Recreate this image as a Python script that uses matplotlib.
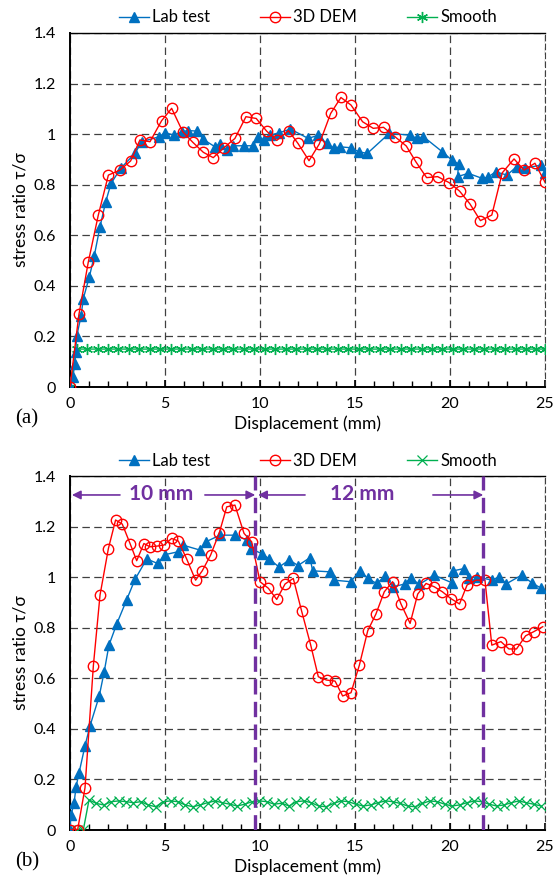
import numpy as np
import matplotlib.pyplot as plt

plt.rcParams['font.family'] = ['Lato', 'DejaVu Sans']

# === (a) data ===
lab_a_x = [0, 0.15, 0.25, 0.3, 0.35, 0.58, 0.7, 1.02, 1.28, 1.58, 1.88, 2.16, 2.67, 3.42, 3.77,
           4.7, 5.0, 5.47, 5.88, 6.23, 6.7, 7.02, 7.63, 7.89, 8.25, 8.6, 9.16, 9.65, 9.91, 10.2,
           10.5, 11.0, 11.6, 12.54, 13.07, 13.5, 13.9, 14.2, 14.8, 15.2, 15.65, 16.8, 17.9, 18.25,
           18.6, 19.6, 20.1, 20.45, 20.4, 20.96, 21.7, 22.0, 22.4, 23.0, 23.5, 23.95, 24.8, 25.0]
lab_a_y = [0, 0.04, 0.09, 0.14, 0.2, 0.28, 0.35, 0.436, 0.52, 0.634, 0.733, 0.805, 0.865, 0.924, 0.97,
           0.99, 1.006, 0.996, 1.01, 1.014, 1.012, 0.979, 0.95, 0.961, 0.937, 0.954, 0.954, 0.954, 0.99, 0.977,
           0.996, 1.005, 1.02, 0.983, 0.996, 0.963, 0.944, 0.95, 0.946, 0.93, 0.924, 1.003, 0.996, 0.983,
           0.99, 0.93, 0.897, 0.882, 0.832, 0.845, 0.825, 0.83, 0.851, 0.838, 0.871, 0.865, 0.878, 0.845]

dem_a_x = [0, 0.47, 0.96, 1.49, 2.02, 2.63, 3.19, 3.68, 4.21, 4.82, 5.35, 5.93, 6.46, 7.02, 7.54,
           8.1, 8.68, 9.26, 9.8, 10.35, 10.88, 11.5, 12.0, 12.58, 13.12, 13.72, 14.26, 14.79, 15.4,
           15.96, 16.5, 17.1, 17.7, 18.2, 18.77, 19.35, 19.96, 20.5, 21.05, 21.6, 22.2, 22.75, 23.37,
           23.9, 24.47, 25.0]
dem_a_y = [0, 0.287, 0.493, 0.68, 0.838, 0.858, 0.894, 0.977, 0.97, 1.053, 1.102, 1.01, 0.968, 0.928, 0.907,
           0.946, 0.983, 1.069, 1.062, 1.012, 0.975, 1.014, 0.963, 0.895, 0.961, 1.082, 1.145, 1.115, 1.049,
           1.023, 1.027, 0.99, 0.953, 0.891, 0.828, 0.832, 0.808, 0.775, 0.724, 0.658, 0.68, 0.847, 0.902,
           0.858, 0.885, 0.81]

smooth_a_x = [0, 0.35, 0.9, 1.45, 2.0, 2.55, 3.1, 3.65, 4.2, 4.75, 5.3, 5.85, 6.4, 6.95, 7.5, 8.05,
              8.6, 9.15, 9.7, 10.25, 10.8, 11.35, 11.9, 12.45, 13.0, 13.55, 14.1, 14.65, 15.2, 15.75,
              16.3, 16.85, 17.4, 17.95, 18.5, 19.05, 19.6, 20.15, 20.7, 21.25, 21.8, 22.35, 22.9,
              23.45, 24.0, 24.55, 25.0]
smooth_a_y = [0, 0.15, 0.15, 0.15, 0.15, 0.15, 0.15, 0.15, 0.15, 0.15, 0.15, 0.15, 0.15, 0.15, 0.15, 0.15,
              0.15, 0.15, 0.15, 0.15, 0.15, 0.15, 0.15, 0.15, 0.15, 0.15, 0.15, 0.15, 0.15, 0.15,
              0.15, 0.15, 0.15, 0.15, 0.15, 0.15, 0.15, 0.15, 0.15, 0.15, 0.15, 0.15, 0.15,
              0.15, 0.15, 0.15, 0.15]

# === (b) data ===
lab_b_x = [0, 0.05, 0.21, 0.32, 0.47, 0.79, 1.05, 1.54, 1.8, 2.05, 2.46, 2.98, 3.42, 4.04, 4.61,
           5.0, 5.67, 5.93, 6.84, 7.16, 7.89, 8.68, 9.3, 9.51, 10.09, 10.49, 11.0, 11.54, 12.0,
           12.63, 12.77, 13.68, 13.9, 14.77, 15.26, 15.67, 16.14, 16.58, 17.0, 17.63, 17.93, 18.38,
           19.16, 20.09, 20.17, 20.74, 21.0, 21.4, 22.2, 22.6, 22.95, 23.77, 24.3, 24.8]
lab_b_y = [0, 0.059, 0.105, 0.171, 0.224, 0.333, 0.411, 0.53, 0.626, 0.731, 0.815, 0.91, 0.991, 1.072, 1.054,
           1.089, 1.1, 1.127, 1.107, 1.14, 1.166, 1.166, 1.147, 1.113, 1.093, 1.072, 1.04, 1.068, 1.046,
           1.077, 1.025, 1.021, 0.988, 0.982, 1.025, 0.995, 0.975, 1.004, 0.962, 0.973, 0.998, 0.971,
           1.008, 0.978, 1.025, 1.034, 0.995, 1.002, 0.988, 1.002, 0.973, 1.008, 0.978, 0.956]

dem_b_x = [0, 0.4, 0.79, 1.23, 1.58, 2.02, 2.4, 2.75, 3.16, 3.51, 3.89, 4.21, 4.6, 4.95, 5.35, 5.7,
           6.14, 6.61, 6.96, 7.4, 7.86, 8.25, 8.68, 9.16, 9.56, 10.0, 10.44, 10.88, 11.32, 11.75,
           12.19, 12.67, 13.07, 13.5, 13.95, 14.35, 14.79, 15.23, 15.67, 16.1, 16.54, 16.98, 17.42,
           17.9, 18.3, 18.74, 19.17, 19.6, 20.05, 20.5, 20.9, 21.37, 21.84, 22.2, 22.68, 23.1, 23.5,
           23.98, 24.4, 24.88]
dem_b_y = [0, 0, 0.167, 0.65, 0.929, 1.113, 1.226, 1.21, 1.133, 1.065, 1.133, 1.12, 1.123, 1.127, 1.153, 1.143,
           1.072, 0.988, 1.025, 1.087, 1.176, 1.278, 1.285, 1.173, 1.14, 0.982, 0.956, 0.912, 0.973, 0.995,
           0.866, 0.731, 0.606, 0.593, 0.589, 0.53, 0.543, 0.652, 0.788, 0.854, 0.942, 0.982, 0.894,
           0.817, 0.933, 0.975, 0.962, 0.942, 0.915, 0.894, 0.969, 0.988, 0.988, 0.731, 0.745, 0.716, 0.716,
           0.768, 0.784, 0.804]

smooth_b_x = [0, 0.35, 0.7, 1.0, 1.39, 1.78, 2.17, 2.56, 2.95, 3.34, 3.73, 4.12, 4.51, 4.9, 5.29,
              5.68, 6.07, 6.46, 6.85, 7.24, 7.63, 8.02, 8.41, 8.8, 9.19, 9.58, 9.97, 10.36, 10.75,
              11.14, 11.53, 11.92, 12.31, 12.7, 13.09, 13.48, 13.87, 14.26, 14.65, 15.04, 15.43,
              15.82, 16.21, 16.6, 16.99, 17.38, 17.77, 18.16, 18.55, 18.94, 19.33, 19.72, 20.11,
              20.5, 20.89, 21.28, 21.67, 22.06, 22.45, 22.84, 23.23, 23.62, 24.01, 24.4, 24.79]
smooth_b_y = [0, 0, 0, 0.119, 0.105, 0.099, 0.112, 0.115, 0.112, 0.108, 0.112, 0.099, 0.092, 0.112, 0.115,
              0.112, 0.099, 0.092, 0.099, 0.108, 0.115, 0.108, 0.102, 0.095, 0.102, 0.112, 0.115, 0.112, 0.102,
              0.106, 0.095, 0.112, 0.115, 0.108, 0.095, 0.092, 0.105, 0.115, 0.112, 0.102, 0.095,
              0.099, 0.108, 0.115, 0.112, 0.105, 0.095, 0.092, 0.105, 0.115, 0.112, 0.102, 0.095,
              0.099, 0.108, 0.115, 0.112, 0.102, 0.095, 0.099, 0.108, 0.115, 0.108, 0.102, 0.095]

shift_x = [9.75, 21.75]
span_labels = ['10 mm', '12 mm']

blue = '#0070C0'
red = '#FF0000'
green = '#00B050'
purple = '#7030A0'


def style_axes(ax):
    ax.set_xlim(0, 25)
    ax.set_ylim(0, 1.4)
    ax.set_xticks(range(0, 26, 5))
    ax.set_xticks(range(0, 26), minor=True)
    ax.set_yticks(np.arange(0, 1.41, 0.2))
    ax.set_yticklabels(['0', '0.2', '0.4', '0.6', '0.8', '1', '1.2', '1.4'])
    ax.grid(True, which='major', color='#404040', lw=0.9, ls=(0, (6, 3.5)))
    ax.tick_params(axis='x', which='major', direction='in', length=5, width=1.2, pad=7, labelsize=11.5)
    ax.tick_params(axis='x', which='minor', direction='in', length=4, width=1)
    ax.tick_params(axis='y', length=0, pad=10, labelsize=11.5)
    for s in ['left', 'bottom']:
        ax.spines[s].set_linewidth(1.4)
    ax.spines['top'].set_linewidth(1.0)
    ax.spines['right'].set_linestyle((0, (5, 3)))
    ax.spines['right'].set_color('#404040')
    ax.set_xlabel('Displacement (mm)', fontsize=12.5)
    ax.xaxis.set_label_coords(0.5, -0.08)
    ax.set_ylabel('stress ratio τ/σ', fontsize=12.5)
    ax.yaxis.set_label_coords(-0.088, 0.5)


fig = plt.figure(figsize=(5.54, 8.81), dpi=100)
ax_a = fig.add_axes([70 / 554, 1 - 387 / 881, 475 / 554, 354 / 881])
ax_b = fig.add_axes([70 / 554, 1 - 830 / 881, 475 / 554, 354 / 881])

# === (a) ===
ax_a.plot(smooth_a_x, smooth_a_y, color=green, lw=1, marker=(6, 2, 0), ms=8, mew=1, label='Smooth', zorder=3)
ax_a.plot(lab_a_x, lab_a_y, color=blue, lw=1, marker='^', ms=7, label='Lab test', zorder=4)
ax_a.plot(dem_a_x, dem_a_y, color=red, lw=1, marker='o', ms=7.5, mfc='none', mew=1, label='3D DEM', zorder=5)

# === (b) ===
ax_b.plot(smooth_b_x, smooth_b_y, color=green, lw=1, marker='x', ms=7, mew=0.9, label='Smooth', zorder=3)
ax_b.plot(lab_b_x, lab_b_y, color=blue, lw=1, marker='^', ms=7, label='Lab test', zorder=4)
ax_b.plot(dem_b_x, dem_b_y, color=red, lw=1, marker='o', ms=7.5, mfc='none', mew=1, label='3D DEM', zorder=5)

for xv in shift_x:
    ax_b.axvline(xv, color=purple, lw=2.4, ls=(0, (4.6, 2.2)), zorder=6)

arr = dict(arrowstyle='-|>', color=purple, lw=1.2, mutation_scale=13, shrinkA=0, shrinkB=0)
arrow_y = 1.325
# span start, span end, text centre, left tail, right tail
spans = [(0.1, shift_x[0], 4.8, 2.63, 7.1),
         (shift_x[0] + 0.15, shift_x[1], 15.37, 12.37, 19.1)]
for (x0, x1, xc, tl, tr), lbl in zip(spans, span_labels):
    ax_b.annotate('', xy=(x0, arrow_y), xytext=(tl, arrow_y), arrowprops=arr, zorder=7)
    ax_b.annotate('', xy=(x1, arrow_y), xytext=(tr, arrow_y), arrowprops=arr, zorder=7)
    ax_b.text(xc, arrow_y + 0.005, lbl, color=purple, fontsize=15, fontweight='bold',
              ha='center', va='center', zorder=7)

for ax, ly in [(ax_a, 1 - 17.5 / 881), (ax_b, 1 - 461 / 881)]:
    style_axes(ax)
    h, l = ax.get_legend_handles_labels()
    order = [1, 2, 0]
    ax.legend([h[i] for i in order], [l[i] for i in order], loc='center',
              bbox_to_anchor=(308 / 554, ly), bbox_transform=fig.transFigure, ncol=3,
              frameon=False, fontsize=12, handlelength=1.8, handletextpad=0.2,
              columnspacing=3.0, numpoints=1)

fig.text(15 / 554, 1 - 419 / 881, '(a)', family='Liberation Serif', fontsize=15, va='center')
fig.text(15 / 554, 1 - 862 / 881, '(b)', family='Liberation Serif', fontsize=15, va='center')

fig.savefig('out.png', dpi=100)
plt.close()
